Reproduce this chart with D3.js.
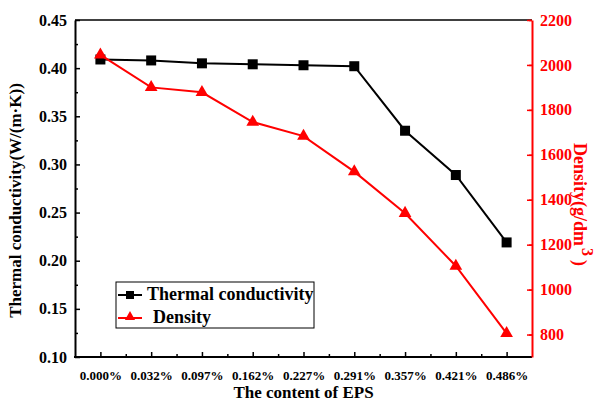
<!DOCTYPE html>
<html>
<head>
<meta charset="utf-8">
<script src="https://cdn.jsdelivr.net/npm/d3@7"></script>
<style>
  body { margin: 0; background: #fff; }
  svg text { font-family: "Liberation Serif", "Times New Roman", serif; font-weight: bold; }
</style>
</head>
<body>
<svg id="chart"></svg>
<script>
(function () {

    const width = 599;
    const height = 403;
    const margin = { top: 20, right: 67, bottom: 46, left: 75 };
    const red = "#ff0000";

    // data
    const contents = ["0.000%", "0.032%", "0.097%", "0.162%", "0.227%", "0.291%", "0.357%", "0.421%", "0.486%"];
    const conductivity = [0.409, 0.408, 0.405, 0.404, 0.403, 0.402, 0.335, 0.289, 0.219];
    const density = [2045, 1900, 1878, 1746, 1683, 1525, 1340, 1105, 805];
    const leftTicks = [0.10, 0.15, 0.20, 0.25, 0.30, 0.35, 0.40, 0.45];
    const rightTicks = [800, 1000, 1200, 1400, 1600, 1800, 2000, 2200];

    const svg = d3.select("#chart")
        .attr("width", width)
        .attr("height", height);

    const x0 = margin.left, x1 = width - margin.right;
    const y0 = height - margin.bottom, y1 = margin.top;

    const x = d3.scalePoint().domain(contents).range([x0, x1]).padding(0.5);
    const yL = d3.scaleLinear().domain([0.10, 0.45]).range([y0, y1]);
    const yR = d3.scaleLinear().domain([700, 2200]).range([y0, y1]);

    // minor tick positions
    const step = x.step();
    const xMinor = contents.slice(0, -1).map(c => x(c) + step / 2);
    const leftMinor = leftTicks.slice(0, -1).map(v => v + 0.025);
    const rightMinor = d3.range(700, 2200, 200).map(v => v + 100).filter(v => v !== 700);

    // top frame line
    svg.append("line")
        .attr("x1", x0).attr("x2", x1)
        .attr("y1", y1).attr("y2", y1)
        .attr("stroke", "#000").attr("stroke-width", 1.5);

    // bottom axis
    const gx = svg.append("g").attr("transform", `translate(0,${y0})`);
    gx.call(d3.axisBottom(x).tickSize(-5).tickSizeOuter(0).tickPadding(14));
    const gxm = svg.append("g").attr("transform", `translate(0,${y0})`);
    gxm.call(d3.axisBottom(d3.scaleLinear().domain([x0, x1]).range([x0, x1]))
        .tickValues(xMinor).tickSize(-3).tickFormat(""));
    gxm.select(".domain").remove();
    gx.select(".domain").attr("d", `M${x0 - 1},0H${x1}`);
    gx.selectAll("text").attr("font-size", 13).attr("fill", "#000");

    // left axis
    const gl = svg.append("g").attr("transform", `translate(${x0},0)`);
    gl.call(d3.axisLeft(yL).tickValues(leftTicks).tickFormat(d3.format(".2f"))
        .tickSize(-5).tickSizeOuter(0).tickPadding(8));
    const glm = svg.append("g").attr("transform", `translate(${x0},0)`);
    glm.call(d3.axisLeft(yL).tickValues(leftMinor).tickSize(-3).tickFormat(""));
    glm.select(".domain").remove();
    gl.selectAll("text").attr("font-size", 16).attr("fill", "#000");

    // right axis
    const gr = svg.append("g").attr("transform", `translate(${x1},0)`);
    gr.call(d3.axisRight(yR).tickValues(rightTicks).tickFormat(d3.format("d"))
        .tickSize(-5).tickSizeOuter(0).tickPadding(8));
    const grm = svg.append("g").attr("transform", `translate(${x1},0)`);
    grm.call(d3.axisRight(yR).tickValues(rightMinor).tickSize(-3).tickFormat(""));
    grm.select(".domain").remove();
    gr.selectAll("text").attr("font-size", 16).attr("fill", red);
    gr.selectAll("line").attr("stroke", red);
    grm.selectAll("line").attr("stroke", red);
    gr.select(".domain").attr("stroke", red);

    svg.selectAll(".domain, .tick line").attr("stroke-width", 2);
    svg.selectAll(".tick line").attr("stroke-width", 1.5);

    // thermal conductivity
    const lineL = d3.line().x((d, i) => x(contents[i])).y(d => yL(d));
    svg.append("path").datum(conductivity)
        .attr("d", lineL).attr("fill", "none")
        .attr("stroke", "#000").attr("stroke-width", 2);
    svg.selectAll("rect.pt").data(conductivity).enter().append("rect")
        .attr("class", "pt")
        .attr("x", (d, i) => x(contents[i]) - 5)
        .attr("y", d => yL(d) - 5)
        .attr("width", 10).attr("height", 10)
        .attr("fill", "#000");

    // density
    const lineR = d3.line().x((d, i) => x(contents[i])).y(d => yR(d));
    svg.append("path").datum(density)
        .attr("d", lineR).attr("fill", "none")
        .attr("stroke", red).attr("stroke-width", 2);
    const tri = d3.symbol().type(d3.symbolTriangle).size(70);
    svg.selectAll("path.tri").data(density).enter().append("path")
        .attr("class", "tri")
        .attr("d", tri)
        .attr("transform", (d, i) => `translate(${x(contents[i])},${yR(d)})`)
        .attr("fill", red);

    // axis titles
    svg.append("text")
        .attr("x", (x0 + x1) / 2).attr("y", 398)
        .attr("text-anchor", "middle").attr("font-size", 17)
        .text("The content of EPS");

    svg.append("text")
        .attr("transform", `translate(21,${(y0 + y1) / 2 + 12}) rotate(-90)`)
        .attr("text-anchor", "middle").attr("font-size", 17)
        .text("Thermal conductivity(W/(m·K))");

    const rt = svg.append("text")
        .attr("transform", `translate(574,143) rotate(90)`)
        .attr("font-size", 18).attr("fill", red);
    rt.append("tspan").text("Density(g/dm");
    rt.append("tspan").attr("dy", -8).attr("dx", 2).attr("font-size", 16).text("3");
    rt.append("tspan").attr("dy", 8).attr("dx", 4).text(")");

    // legend
    const lg = svg.append("g").attr("transform", "translate(116,282)");
    lg.append("rect").attr("width", 198).attr("height", 46)
        .attr("fill", "#fff").attr("stroke", "#000").attr("stroke-width", 1);
    const items = [
        { name: "Thermal conductivity", color: "#000", shape: "square", y: 13, tx: 31 },
        { name: "Density", color: red, shape: "tri", y: 36, tx: 37 }
    ];
    items.forEach(it => {
        lg.append("line").attr("x1", 2).attr("x2", 26)
            .attr("y1", it.y).attr("y2", it.y)
            .attr("stroke", it.color).attr("stroke-width", 2);
        if (it.shape === "square") {
            lg.append("rect").attr("x", 10).attr("y", it.y - 4)
                .attr("width", 8).attr("height", 8).attr("fill", it.color);
        } else {
            lg.append("path").attr("d", d3.symbol().type(d3.symbolTriangle).size(45))
                .attr("transform", `translate(14,${it.y - 1})`).attr("fill", it.color);
        }
        lg.append("text").attr("x", it.tx).attr("y", it.y + 5)
            .attr("font-size", 18).text(it.name);
    });

})();
</script>
</body>
</html>
